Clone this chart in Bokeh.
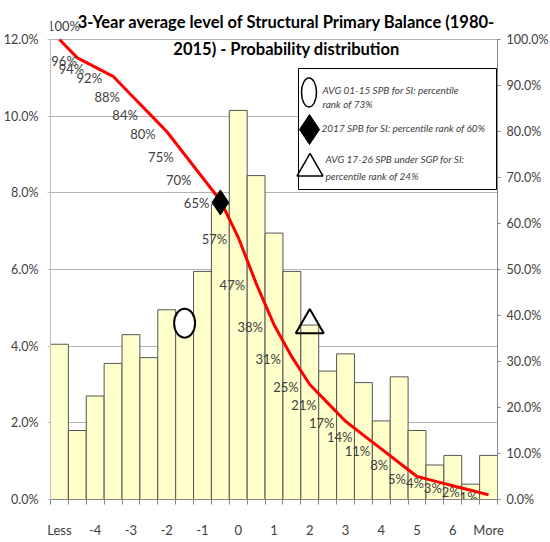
from bokeh.plotting import figure
from bokeh.models import (Range1d, LinearAxis, FixedTicker, PrintfTickFormatter,
                          Label, ColumnDataSource)
from bokeh.core.properties import value
from bokeh.embed import file_html
from bokeh.resources import INLINE

# ---------------- data ----------------
categories = ["Less", "-4.5", "-4", "-3.5", "-3", "-2.5", "-2", "-1.5", "-1", "-0.5",
              "0", "0.5", "1", "1.5", "2", "2.5", "3", "3.5", "4", "4.5",
              "5", "5.5", "6", "6.5", "More"]
freq_pct = [4.05, 1.80, 2.70, 3.55, 4.30, 3.70, 4.95, 4.60, 5.95, 7.70,
            10.15, 8.45, 6.95, 5.95, 4.55, 3.35, 3.80, 3.05, 2.05, 3.20,
            1.80, 0.90, 1.15, 0.40, 1.15]
rank_pct = [100, 96, 94, 92, 88, 84, 80, 75, 70, 65, 57, 47, 38, 31, 25, 21,
            17, 14, 11, 8, 5, 4, 3, 2, 1]
left_ticks = [0, 2, 4, 6, 8, 10, 12]
right_ticks = [0, 10, 20, 30, 40, 50, 60, 70, 80, 90, 100]

marker_cat = ["-1.5", "-0.5", "2"]
marker_val = [4.60, 7.75, 4.55]
legend_texts = [["AVG 01-15 SPB for SI: percentile", "rank of 73%"],
                ["2017 SPB for SI: percentile rank of 60%"],
                ["AVG 17-26 SPB under SGP for SI:", "percentile rank of 24%"]]
title_lines = ["3-Year average level of Structural Primary Balance (1980-",
               "2015) - Probability distribution"]

FONT = "Lato"
TXT = "#404040"

# frame geometry (pixels): plot area 447 x 460 plus 33 px headroom for the title
FW, FH, HEAD = 447, 460, 33
scale = (FH + HEAD) / FH

xi = list(range(len(categories)))
src = ColumnDataSource(dict(x=xi, freq=freq_pct, rank=rank_pct))

p = figure(frame_width=FW, frame_height=FH + HEAD, output_backend="svg",
           toolbar_location=None, x_range=Range1d(-0.5, len(categories) - 0.5),
           y_range=Range1d(0, max(left_ticks) * scale), min_border_left=44,
           min_border_top=6, min_border_bottom=27, min_border_right=10)
p.outline_line_color = None
p.background_fill_color = "white"
p.extra_y_ranges = {"rank": Range1d(0, max(right_ticks) * scale),
                    "py": Range1d(0, FH + HEAD)}
p.extra_x_ranges = {"px": Range1d(0, FW)}

# grid
p.xgrid.grid_line_color = None
p.ygrid.grid_line_color = "#b3b3b3"
p.ygrid.ticker = FixedTicker(ticks=left_ticks)

# bars
p.vbar(x="x", top="freq", width=1.0, source=src, fill_color="#FFFFCC",
       line_color="#555555", line_width=1)

# legend box (drawn as glyph so keys sit on top of it)
p.quad(left=[248], right=[446], bottom=[310], top=[431], x_range_name="px",
       y_range_name="py", fill_color="white", line_color="black", line_width=1)

# cumulative line
p.line(x="x", y="rank", source=src, y_range_name="rank", line_color="#ff0000",
       line_width=3)

labs = [f"{v}%" for v in rank_pct]
s0 = ColumnDataSource(dict(x=xi[:1], rank=rank_pct[:1], lab=labs[:1]))
s1 = ColumnDataSource(dict(x=xi[1:2], rank=rank_pct[1:2], lab=labs[1:2]))
s2 = ColumnDataSource(dict(x=xi[2:], rank=rank_pct[2:], lab=labs[2:]))
common = dict(y_range_name="rank", text_baseline="middle", text_font=value(FONT),
              text_font_size="13px", text_color=TXT)
p.text(x="x", y="rank", text="lab", source=s0, text_align="center",
       x_offset=4, y_offset=-14, **common)
p.text(x="x", y="rank", text="lab", source=s1, text_align="left",
       x_offset=-26, y_offset=3, **common)
p.text(x="x", y="rank", text="lab", source=s2, text_align="right",
       x_offset=-11, y_offset=2, **common)

# markers on chart
mx = [categories.index(c) for c in marker_cat]
p.ellipse(x=[mx[0]], y=[marker_val[0]], width=21, height=29,
          width_units="screen", height_units="screen", fill_color="white",
          line_color="black", line_width=2)
p.scatter(x=[mx[1]], y=[marker_val[1]], marker="diamond", size=25,
          fill_color="black", line_color="black")
p.scatter(x=[mx[2]], y=[marker_val[2]], marker="triangle", size=28,
          fill_color=None, line_color="black", line_width=2)

# legend keys and texts
p.ellipse(x=[258.5], y=[407], width=15, height=29, width_units="screen",
          height_units="screen", x_range_name="px", y_range_name="py",
          fill_color="white", line_color="black", line_width=1.5)
p.scatter(x=[259], y=[370], marker="diamond", size=30, x_range_name="px",
          y_range_name="py", fill_color="black", line_color="black")
p.scatter(x=[259.5], y=[331], marker="triangle", size=26, x_range_name="px",
          y_range_name="py", fill_color=None, line_color="black", line_width=1.5)
leg_pos = [(272, [410, 396]), (271, [372]), (275, [341, 324])]
for (lx, lys), lines in zip(leg_pos, legend_texts):
    for ly, t in zip(lys, lines):
        p.add_layout(Label(x=lx, y=ly, x_range_name="px", y_range_name="py",
                           text=t, text_align="left", text_baseline="middle",
                           text_font=FONT, text_font_style="italic",
                           text_font_size="10px", text_color=TXT))

# title (two lines, over the chart top)
for t, yy in zip(title_lines, [478, 451]):
    p.add_layout(Label(x=236, y=yy, x_range_name="px", y_range_name="py",
                       text=t, text_align="center", text_baseline="middle",
                       text_font=FONT, text_font_style="bold",
                       text_font_size="16.5px", text_color="black"))

# axes
p.xaxis.ticker = FixedTicker(ticks=list(range(0, len(categories), 2)),
                             minor_ticks=[i - 0.5 for i in range(len(categories) + 1)])
p.xaxis.major_label_overrides = {i: categories[i] for i in range(0, len(categories), 2)}
p.xaxis.major_tick_out = 0
p.xaxis.major_tick_in = 0
p.xaxis.minor_tick_out = 5
p.xaxis.minor_tick_in = 0
p.xaxis.minor_tick_line_color = "#868686"
p.xaxis.axis_line_color = "#868686"
p.xaxis.major_label_standoff = 17
p.xaxis.major_label_text_font_size = "13px"

p.yaxis.ticker = FixedTicker(ticks=left_ticks)
p.yaxis.bounds = (0, max(left_ticks))
p.yaxis.formatter = PrintfTickFormatter(format="%.1f%%")
p.yaxis.major_tick_out = 3
p.yaxis.major_tick_in = 0
p.yaxis.minor_tick_line_color = None
p.yaxis.axis_line_color = "#bfbfbf"
p.yaxis.major_tick_line_color = "#bfbfbf"
p.yaxis.major_label_standoff = 9
p.yaxis.major_label_text_font_size = "12.5px"

ry = LinearAxis(y_range_name="rank", ticker=FixedTicker(ticks=right_ticks),
                formatter=PrintfTickFormatter(format="%.1f%%"),
                bounds=(0, max(right_ticks)))
ry.major_tick_out = 3
ry.major_tick_in = 0
ry.minor_tick_line_color = None
ry.axis_line_color = "#868686"
ry.major_tick_line_color = "#868686"
ry.major_label_standoff = 6
ry.major_label_text_font_size = "12.5px"
p.add_layout(ry, "right")

for ax in [p.xaxis[0], p.yaxis[0], ry]:
    ax.major_label_text_font = FONT
    ax.major_label_text_color = TXT

open("out.html", "w").write(file_html(p, INLINE))
